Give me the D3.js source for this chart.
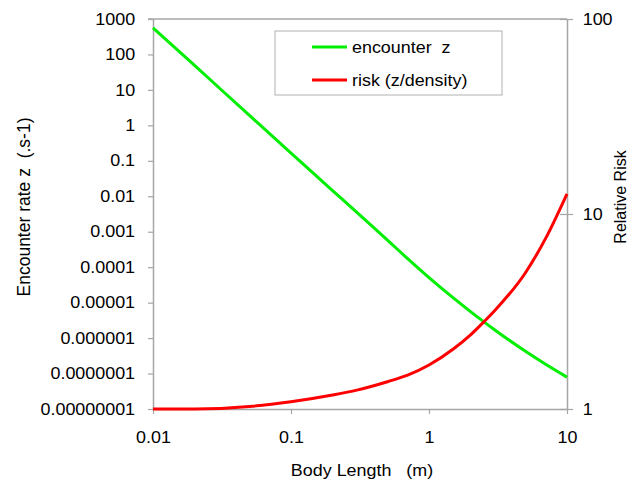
<!DOCTYPE html>
<html>
<head>
<meta charset="utf-8">
<script src="https://cdn.jsdelivr.net/npm/d3@7"></script>
<style>
  body { margin: 0; background: #fff; }
  text { font-family: "Liberation Sans", Arial, sans-serif; fill: #000; }
</style>
</head>
<body>
<div id="chart"></div>
<script>
// body length (m)
const lengths = [0.01, 0.02, 0.05, 0.1, 0.2, 0.3, 0.5, 0.7, 1, 1.5, 2, 2.5, 3, 5, 7, 10]
// encounter rate z (s-1), left axis
const encounter = [560, 49, 1.9, 0.166, 0.0145, 0.0035, 0.00058, 0.000174, 0.0000508,
  0.00001355, 0.00000556, 0.00000286, 0.00000169, 0.000000424, 0.000000182, 0.000000079]
// relative risk (z/density), right axis
const risk = [1.0, 1.0, 1.03, 1.09, 1.18, 1.25, 1.38, 1.49, 1.68, 2.03, 2.4, 2.8, 3.2, 5.0, 7.5, 12.7]

const xTicks = [0.01, 0.1, 1, 10]
const xTickLabels = ["0.01", "0.1", "1", "10"]
const leftTicks = [1000, 100, 10, 1, 0.1, 0.01, 0.001, 0.0001, 0.00001, 0.000001, 0.0000001, 0.00000001]
const leftTickLabels = ["1000", "100", "10", "1", "0.1", "0.01", "0.001", "0.0001", "0.00001",
  "0.000001", "0.0000001", "0.00000001"]
const rightTicks = [100, 10, 1]
const rightTickLabels = ["100", "10", "1"]

const W = 629, H = 479
const margin = { top: 19, right: 62, bottom: 70, left: 153 }
const width = W - margin.left - margin.right,
  height = H - margin.top - margin.bottom
const stretch = "scale(1.12,1)"
const axisColor = "#a6a6a6"

const svg = d3.select("#chart").append("svg")
  .attr("width", W)
  .attr("height", H)

const g = svg.append("g")
  .attr("transform", "translate(" + margin.left + "," + margin.top + ")")

const x = d3.scaleLog().domain([0.01, 10]).range([0, width])
const yL = d3.scaleLog().domain([0.00000001, 1000]).range([height, 0])
const yR = d3.scaleLog().domain([1, 100]).range([height, 0])

// top frame line
g.append("line")
  .attr("x1", -5).attr("x2", width)
  .attr("y1", 0).attr("y2", 0)
  .attr("stroke", axisColor).attr("stroke-width", 1.5)

// left axis
const leftAxis = g.append("g")
  .call(d3.axisLeft(yL).tickValues(leftTicks)
    .tickFormat((d, i) => leftTickLabels[i])
    .tickSize(5).tickSizeOuter(0).tickPadding(11))
leftAxis.select(".domain").attr("stroke", axisColor).attr("stroke-width", 1.5)
leftAxis.selectAll(".tick line").attr("stroke", axisColor).attr("stroke-width", 1.2)
leftAxis.selectAll(".tick text")
  .attr("transform", stretch)
  .style("font-size", "16px")

// right axis
const rightAxis = g.append("g")
  .attr("transform", "translate(" + width + ",0)")
  .call(d3.axisRight(yR).tickValues(rightTicks)
    .tickFormat((d, i) => rightTickLabels[i])
    .tickSize(6).tickSizeOuter(0).tickPadding(8))
rightAxis.select(".domain").attr("stroke", axisColor).attr("stroke-width", 1.5)
rightAxis.selectAll(".tick line").attr("x1", -7).attr("stroke", axisColor).attr("stroke-width", 1.2)
rightAxis.selectAll(".tick text")
  .attr("transform", stretch)
  .style("font-size", "16px")

// bottom axis
const bottomAxis = g.append("g")
  .attr("transform", "translate(0," + height + ")")
  .call(d3.axisBottom(x).tickValues(xTicks)
    .tickFormat((d, i) => xTickLabels[i])
    .tickSize(5).tickSizeOuter(0).tickPadding(18))
bottomAxis.select(".domain").attr("stroke", axisColor).attr("stroke-width", 1.5)
bottomAxis.selectAll(".tick line").attr("stroke", axisColor).attr("stroke-width", 1.2)
bottomAxis.selectAll(".tick text")
  .attr("transform", stretch)
  .style("font-size", "16px")

// lines
const encounterLine = d3.line()
  .x((d, i) => x(lengths[i]))
  .y(d => yL(d))
  .curve(d3.curveMonotoneX)

const riskLine = d3.line()
  .x((d, i) => x(lengths[i]))
  .y(d => yR(d))
  .curve(d3.curveMonotoneX)

g.append("path")
  .datum(encounter)
  .attr("d", encounterLine)
  .attr("fill", "none")
  .attr("stroke", "#00ee00")
  .attr("stroke-width", 3)

g.append("path")
  .datum(risk)
  .attr("d", riskLine)
  .attr("fill", "none")
  .attr("stroke", "#ff0000")
  .attr("stroke-width", 3)

// axis titles
svg.append("text")
  .attr("transform", "translate(30,207) rotate(-90)")
  .style("text-anchor", "middle")
  .style("font-size", "17.5px")
  .style("white-space", "pre")
  .text("Encounter rate z  (.s-1)")

svg.append("text")
  .attr("transform", "translate(626,197) rotate(-90)")
  .style("text-anchor", "middle")
  .style("font-size", "16px")
  .text("Relative Risk")

svg.append("text")
  .attr("transform", "translate(362,476) " + stretch)
  .style("text-anchor", "middle")
  .style("font-size", "16px")
  .style("white-space", "pre")
  .text("Body Length   (m)")

// legend
const legendItems = [
  { name: "encounter  z", color: "#00ee00" },
  { name: "risk (z/density)", color: "#ff0000" }
]

const legendGroup = svg.append("g")
  .attr("transform", "translate(275,31)")

legendGroup.append("rect")
  .attr("width", 227)
  .attr("height", 64)
  .attr("fill", "#fff")
  .attr("stroke", "#b0b0b0")
  .attr("stroke-width", 1)

const legend = legendGroup.selectAll(".legend")
  .data(legendItems)
  .enter()
  .append("g")
  .attr("class", "legend")
  .attr("transform", (d, i) => "translate(0," + (16 + i * 33) + ")")

legend.append("line")
  .attr("x1", 37).attr("x2", 72)
  .attr("y1", 0).attr("y2", 0)
  .attr("stroke", d => d.color)
  .attr("stroke-width", 3)

legend.append("text")
  .attr("transform", "translate(77,6) " + stretch)
  .style("font-size", "16px")
  .style("white-space", "pre")
  .text(d => d.name)
</script>
</body>
</html>
